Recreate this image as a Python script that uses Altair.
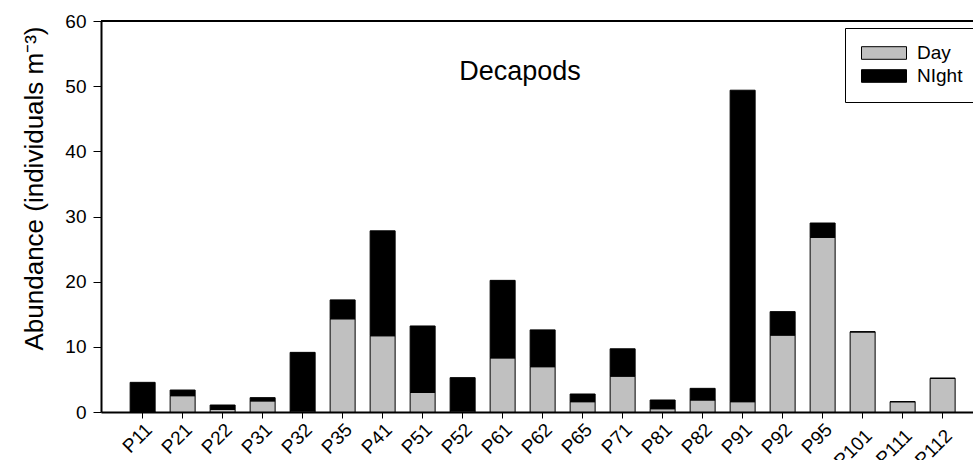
import altair as alt
import pandas as pd

# Sampling stations along the transect
stations = ["P11", "P21", "P22", "P31", "P32", "P35", "P41", "P51", "P52", "P61",
            "P62", "P65", "P71", "P81", "P82", "P91", "P92", "P95", "P101", "P111", "P112"]

# Decapod abundance (individuals m-3), day and night samples
day = [0.0, 2.5, 0.4, 1.7, 0.15, 14.3, 11.7, 3.0, 0.15, 8.3,
       6.95, 1.58, 5.5, 0.5, 1.84, 1.58, 11.8, 26.8, 12.3, 1.58, 5.17]
night = [4.55, 0.87, 0.67, 0.5, 9.0, 2.9, 16.1, 10.2, 5.12, 11.9,
         5.65, 1.18, 4.2, 1.34, 1.79, 47.8, 3.6, 2.2, 0.0, 0.0, 0.0]

periods = ["Day", "NIght"]
period_colors = ["#c0c0c0", "#000000"]

rows = []
for i, st in enumerate(stations):
    rows.append({"station": st, "period": "Day", "order": 0, "value": day[i]})
    rows.append({"station": st, "period": "NIght", "order": 1, "value": night[i]})
df = pd.DataFrame(rows)

FONT = "Liberation Sans"
# wide flat rectangle used as legend swatch
SWATCH = "M-1,-0.28H1V0.28H-1Z"

# four-character station names sit a little lower under their ticks
label_pad = {"condition": {"test": "length(datum.label) > 3", "value": 8}, "value": 2}

bars = alt.Chart(df).mark_bar(stroke="black", strokeWidth=1).encode(
    x=alt.X(
        "station:N",
        sort=stations,
        scale=alt.Scale(paddingInner=0.375, paddingOuter=0.5875, align=0.62),
        axis=alt.Axis(
            title=None, labelAngle=315, labelFontSize=19, labelFont=FONT,
            labelColor="black", tickSize=6, tickColor="black", tickWidth=1,
            domainColor="black", domainWidth=2, labelPadding=label_pad,
        ),
    ),
    y=alt.Y(
        "value:Q",
        stack="zero",
        scale=alt.Scale(domain=[0, 60], nice=False),
        axis=alt.Axis(
            title="Abundance (individuals m⁻³)", titleFont=FONT, titleFontSize=26,
            titleFontWeight="normal", titleColor="black", titleX=-59, titleY=167,
            titleAngle=270, titleAlign="center", titleBaseline="alphabetic",
            values=[0, 10, 20, 30, 40, 50, 60], labelFontSize=19, labelFont=FONT,
            labelColor="black", tickSize=8, tickColor="black", tickWidth=1,
            domainColor="black", domainWidth=2, labelPadding=7, grid=False,
        ),
    ),
    color=alt.Color(
        "period:N",
        scale=alt.Scale(domain=periods, range=period_colors),
        legend=alt.Legend(
            title=None, orient="none", legendX=744, legendY=7,
            symbolType=SWATCH, symbolSize=2025, symbolStrokeColor="black",
            symbolStrokeWidth=1, symbolOpacity=1, labelFont=FONT, labelFontSize=19,
            labelColor="black", labelOffset=10, padding=16, rowPadding=4,
            strokeColor="black", fillColor="white", clipHeight=18,
        ),
    ),
    order=alt.Order("order:Q"),
)

# top frame line
top_line = alt.Chart(pd.DataFrame({"y": [60]})).mark_rule(
    color="black", strokeWidth=2
).encode(y="y:Q")

chart = alt.layer(bars, top_line).properties(
    width=872,
    height=391,
    autosize=alt.AutoSizeParams(type="none"),
    padding={"left": 101, "top": 21, "right": 0, "bottom": 48},
    title=alt.TitleParams(
        text="Decapods", font=FONT, fontSize=27, fontWeight="normal",
        color="black", anchor="middle", frame="group", dx=-17, offset=-95,
        baseline="alphabetic",
    ),
).configure_view(stroke=None).configure(background="white")

chart.save("out.html", embed_options={"renderer": "svg", "actions": False})
